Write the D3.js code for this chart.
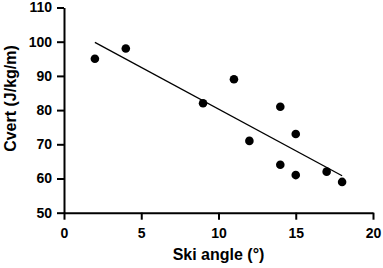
<!DOCTYPE html>
<html>
<head>
<meta charset="utf-8">
<script src="https://cdn.jsdelivr.net/npm/d3@7"></script>
<style>
  body { margin: 0; background: #fff; }
  text { font-family: "Liberation Sans", Arial, sans-serif; font-weight: bold; }
</style>
</head>
<body>
<div id="container"></div>
<script>
/* DATA */
const skiAngle = [2, 4, 9, 11, 12, 14, 14, 15, 15, 17, 18];
const cvert = [95, 98, 82, 89, 71, 81, 64, 73, 61, 62, 59];
const fitX = [2, 18];
const fitY = [99.8, 60.8];
const xTicks = [0, 5, 10, 15, 20];
const yTicks = [50, 60, 70, 80, 90, 100, 110];

/* CONSTANTS */
const width = 383, height = 268;
const plotLeft = 64, plotRight = 373, plotTop = 7.5, plotBottom = 212.7;

const svg = d3.select("#container").append("svg")
  .attr("width", width)
  .attr("height", height);

// scales
const x = d3.scaleLinear().domain([0, 20]).range([plotLeft, plotRight]);
const y = d3.scaleLinear().domain([50, 110]).range([plotBottom, plotTop]);

// x axis
const xAxis = svg.append("g")
  .attr("transform", `translate(0,${plotBottom})`)
  .call(d3.axisBottom(x).tickValues(xTicks).tickSize(7).tickPadding(8).tickSizeOuter(0));

// y axis
const yAxis = svg.append("g")
  .attr("transform", `translate(${plotLeft},0)`)
  .call(d3.axisLeft(y).tickValues(yTicks).tickSize(7).tickPadding(5).tickSizeOuter(0));

[xAxis, yAxis].forEach(g => {
  g.select(".domain").attr("stroke", "#000").attr("stroke-width", 2);
  g.selectAll(".tick line").attr("stroke", "#000").attr("stroke-width", 2);
  g.selectAll(".tick text")
    .attr("fill", "#000")
    .style("font-family", '"Liberation Sans", Arial, sans-serif')
    .style("font-weight", "bold")
    .style("font-size", "14px");
});

// fit line
svg.append("line")
  .attr("x1", x(fitX[0])).attr("y1", y(fitY[0]))
  .attr("x2", x(fitX[1])).attr("y2", y(fitY[1]))
  .attr("stroke", "#000")
  .attr("stroke-width", 1.3);

// points
svg.selectAll("circle.pt")
  .data(skiAngle.map((d, i) => ({ a: d, c: cvert[i] })))
  .join("circle")
  .attr("class", "pt")
  .attr("cx", d => x(d.a))
  .attr("cy", d => y(d.c))
  .attr("r", 4.3)
  .attr("fill", "#000");

// x-axis label
svg.append("text")
  .attr("text-anchor", "middle")
  .attr("x", x(10))
  .attr("y", 259.5)
  .style("font-size", "16px")
  .text("Ski angle (°)");

// y-axis label
svg.append("text")
  .attr("text-anchor", "middle")
  .attr("transform", "rotate(-90)")
  .attr("x", -98.5)
  .attr("y", 15.5)
  .style("font-size", "16px")
  .text("Cvert (J/kg/m)");
</script>
</body>
</html>
